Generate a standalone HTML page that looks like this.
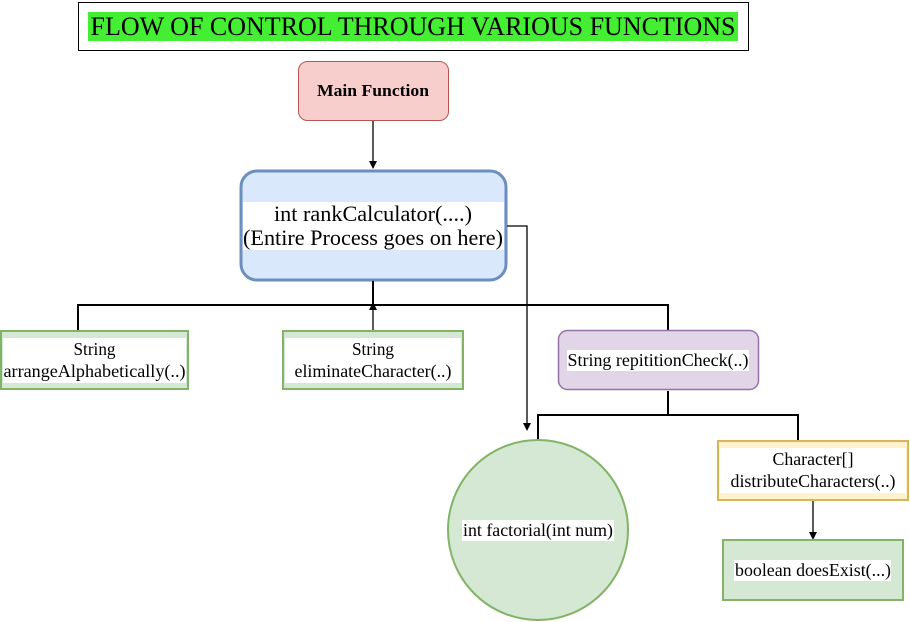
<!DOCTYPE html>
<html><head><style>body{margin:0;background:#fff}svg{display:block}text{font-family:"Liberation Serif",serif;fill:#000}</style></head><body>
<svg width="910" height="622" viewBox="0 0 910 622" xmlns="http://www.w3.org/2000/svg">
<rect x="78.5" y="2.5" width="670" height="48" fill="#fff" stroke="#000"/>
<rect x="88" y="12" width="650" height="29" fill="#44ee33"/>
<text x="413" y="35" font-size="26" text-anchor="middle" textLength="645" lengthAdjust="spacingAndGlyphs">FLOW OF CONTROL THROUGH VARIOUS FUNCTIONS</text>
<rect x="298.5" y="61.5" width="150" height="59" rx="9" fill="#f8cecc" stroke="#b85450"/>
<text x="373" y="96" font-size="17" font-weight="bold" text-anchor="middle" textLength="112" lengthAdjust="spacingAndGlyphs">Main Function</text>
<line x1="373" y1="121" x2="373" y2="162" stroke="#000" stroke-width="1.3"/>
<path d="M369,161 L373,169 L377,161 Z" fill="#000"/>
<rect x="241" y="171" width="265" height="109" rx="16" fill="#dae8fc" stroke="#6c8ebf" stroke-width="3"/>
<rect x="243" y="202" width="261" height="48" fill="#fff"/>
<text x="373" y="221" font-size="22" text-anchor="middle" textLength="198" lengthAdjust="spacingAndGlyphs">int rankCalculator(....)</text>
<text x="373" y="245" font-size="22" text-anchor="middle" textLength="260" lengthAdjust="spacingAndGlyphs">(Entire Process goes on here)</text>
<polyline points="507,226 527,226 527,424" fill="none" stroke="#000" stroke-width="1.3"/>
<path d="M523,423 L527,431 L531,423 Z" fill="#000"/>
<g stroke="#000" stroke-width="2" fill="none">
<polyline points="78,330 78,305 668,305 668,330"/>
<line x1="373" y1="281" x2="373" y2="305"/>
<polyline points="538,440 538,415 798,415 798,440"/>
<line x1="668" y1="391" x2="668" y2="415"/>
</g>
<line x1="373" y1="330" x2="373" y2="308" stroke="#000" stroke-width="1.3"/>
<path d="M369,310 L373,302 L377,310 Z" fill="#000"/>
<rect x="1" y="331" width="187" height="58" fill="#d5e8d4" stroke="#82b366" stroke-width="2"/>
<rect x="3" y="338" width="183" height="45" fill="#fff"/>
<text x="94.5" y="355" font-size="18" text-anchor="middle" textLength="42" lengthAdjust="spacingAndGlyphs">String</text>
<text x="94.5" y="377" font-size="18" text-anchor="middle" textLength="182" lengthAdjust="spacingAndGlyphs">arrangeAlphabetically(..)</text>
<rect x="283" y="331" width="180" height="58" fill="#d5e8d4" stroke="#82b366" stroke-width="2"/>
<rect x="285" y="338" width="176" height="45" fill="#fff"/>
<text x="373" y="355" font-size="18" text-anchor="middle" textLength="42" lengthAdjust="spacingAndGlyphs">String</text>
<text x="373" y="377" font-size="18" text-anchor="middle" textLength="157" lengthAdjust="spacingAndGlyphs">eliminateCharacter(..)</text>
<rect x="558.5" y="330.5" width="200" height="59" rx="9" fill="#e1d5e7" stroke="#9673a6" stroke-width="1.5"/>
<rect x="567" y="350" width="182" height="21" fill="#fff"/>
<text x="658" y="366" font-size="18" text-anchor="middle" textLength="181" lengthAdjust="spacingAndGlyphs">String repititionCheck(..)</text>
<circle cx="538" cy="530" r="90" fill="#d5e8d4" stroke="#82b366" stroke-width="2"/>
<rect x="462" y="520" width="152" height="21" fill="#fff"/>
<text x="538" y="536" font-size="18" text-anchor="middle" textLength="150" lengthAdjust="spacingAndGlyphs">int factorial(int num)</text>
<rect x="718" y="441" width="190" height="59" fill="#fff2cc" stroke="#d6b656" stroke-width="2"/>
<rect x="720" y="448" width="186" height="45" fill="#fff"/>
<text x="813" y="465" font-size="18" text-anchor="middle" textLength="81" lengthAdjust="spacingAndGlyphs">Character[]</text>
<text x="813" y="487" font-size="18" text-anchor="middle" textLength="165" lengthAdjust="spacingAndGlyphs">distributeCharacters(..)</text>
<line x1="813" y1="501" x2="813" y2="533" stroke="#000" stroke-width="1.3"/>
<path d="M809,532 L813,540 L817,532 Z" fill="#000"/>
<rect x="723" y="540" width="180" height="60" fill="#d5e8d4" stroke="#82b366" stroke-width="2"/>
<rect x="734" y="560" width="157" height="21" fill="#fff"/>
<text x="813" y="576" font-size="18" text-anchor="middle" textLength="156" lengthAdjust="spacingAndGlyphs">boolean doesExist(...)</text>
</svg>
</body></html>
